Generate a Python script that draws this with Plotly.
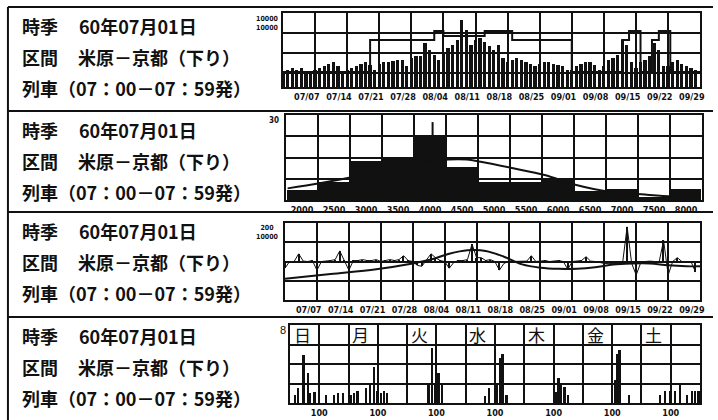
import plotly.graph_objects as go

W, H = 718, 420


def fx(x):
    return x / W


def fy(y):
    return 1 - y / H


# ---------------- data ----------------
week_labels = ["07/07", "07/14", "07/21", "07/28", "08/04", "08/11", "08/18",
               "08/25", "09/01", "09/08", "09/15", "09/22", "09/29"]

# daily passengers, 07/01 .. 09/29 (chart units)
daily_riders = [
    0.75, 0.85, 0.95, 0.85, 0.95, 0.80, 0.65,
    0.85, 0.95, 1.05, 1.15, 1.25, 1.05, 0.80,
    0.85, 0.95, 1.05, 1.15, 1.25, 1.10, 0.85,
    1.15, 1.25, 1.25, 1.30, 1.35, 1.35, 1.05,
    1.45, 1.55, 1.55, 2.20, 1.85, 1.60, 1.35,
    1.75, 1.95, 2.10, 2.35, 3.35, 2.85, 2.10,
    2.35, 2.45, 2.25, 2.05, 1.85, 2.10, 1.45,
    1.25, 1.35, 1.45, 1.35, 1.25, 1.15, 1.05,
    1.15, 1.25, 1.25, 1.15, 1.10, 1.05, 0.85,
    0.85, 1.05, 1.15, 1.25, 1.25, 1.10, 0.85,
    1.05, 1.35, 1.45, 1.60, 2.35, 2.10, 1.25,
    0.95, 1.25, 1.35, 1.55, 2.20, 1.85, 1.05,
    1.05, 1.25, 1.35, 1.15, 1.05, 0.95, 0.85,
]

# seat capacity step line (change day, level)
capacity_day = [0, 19, 33, 35, 44, 50, 63, 74, 75.5, 78, 80.5, 82, 84.5, 91]
capacity_level = [0.75, 2.35, 2.80, 2.55, 2.80, 2.35, 0.75, 2.35, 2.80,
                  0.75, 2.35, 2.80, 0.75, 0.75]

# distribution by amount
amount_labels = ["2000", "2500", "3000", "3500", "4000", "4500", "5000",
                 "5500", "6000", "6500", "7000", "7500", "8000"]
amount_counts = [3.6, 6.5, 13.8, 15.3, 22.4, 11.8, 6.5, 6.5, 7.0, 3.3, 3.8, 1.2, 3.8]
fit_x = [-0.45, 0.55, 1.55, 2.5, 3.5, 4.58, 5.15, 5.58, 6.6, 7.58, 8.57,
         9.6, 10.6, 11.57, 12.45]
fit_y = [4.1, 5.9, 8.0, 10.5, 12.8, 14.3, 14.3, 13.5, 11.2, 8.8, 5.3,
         2.9, 2.0, 1.2, 0.9]
mean_x = [4.08, 4.08]
mean_y = [22.4, 27.5]

# daily index around the base level, plus trend curve
index_base = 2.0
daily_index = [
    1.65, 2.00, 2.00, 2.40, 2.02, 2.00, 2.05,
    1.55, 2.00, 2.02, 2.05, 2.10, 2.55, 2.05,
    1.55, 2.05, 2.05, 2.10, 2.05, 2.05, 2.10,
    2.00, 2.05, 2.10, 2.05, 2.10, 2.30, 2.05,
    2.00, 1.80, 1.75, 2.05, 2.40, 2.20, 2.05,
    2.00, 1.65, 1.95, 2.05, 2.05, 2.10, 2.90,
    2.20, 2.20, 2.05, 2.10, 2.00, 1.55, 1.90,
    2.00, 2.00, 2.00, 2.00, 2.02, 2.30, 2.00,
    2.02, 2.05, 2.00, 2.02, 2.05, 2.00, 1.60,
    2.00, 2.02, 2.05, 2.25, 2.02, 2.00, 1.95,
    1.90, 1.90, 1.90, 1.90, 1.90, 3.80, 1.90,
    1.30, 1.95, 2.00, 2.02, 2.00, 1.95, 3.10,
    1.30, 2.00, 2.20, 2.00, 2.00, 2.00, 1.45,
]
trend_day = [0, 10, 20, 28, 32, 36, 40, 44, 48, 52, 56, 60, 64, 68, 72, 76, 80, 84, 88, 91]
trend_val = [1.10, 1.35, 1.60, 1.90, 2.10, 2.40, 2.58, 2.55, 2.25, 1.85, 1.68,
             1.62, 1.62, 1.70, 1.85, 1.90, 1.90, 1.80, 1.75, 1.75]

# departures by weekday / time (column position, count)
weekday_labels = ["日", "月", "火", "水", "木", "金", "土"]
slot_pos = [0.16, 0.27, 0.46, 0.61, 0.69, 0.84, 1.23, 1.51, 1.63, 1.80,
            2.08, 2.19, 2.30, 2.59, 2.72, 2.87, 2.98, 3.10, 3.21, 3.32,
            4.73, 4.85, 4.96, 5.07, 5.19,
            6.66, 6.80, 7.05, 7.16, 7.25, 7.39,
            9.08, 9.17, 9.25, 9.37, 9.48,
            11.00, 11.10, 11.17, 11.25, 11.57,
            12.64, 12.81, 12.98, 13.15, 13.32, 13.55, 13.72, 13.83, 13.94]
slot_count = [0.85, 1.5, 4.9, 3.1, 1.0, 1.1, 0.85, 0.85, 1.0, 1.0,
              0.85, 1.0, 1.2, 1.5, 1.9, 3.7, 1.2, 1.0, 1.2, 1.0,
              1.9, 5.6, 1.9, 3.1, 1.9,
              0.7, 1.5, 1.85, 4.6, 5.0, 0.8,
              1.1, 2.6, 1.85, 1.6, 0.8,
              3.0, 2.4, 5.0, 5.4, 0.8,
              0.8, 1.2, 1.2, 1.2, 1.8, 0.8, 1.2, 1.2, 1.2]
mid_label = "100"

header_date = "60年07月01日"
header_route = "米原－京都（下り）"
header_train = "列車（07：00－07：59発）"

# ---------------- figure ----------------
fig = go.Figure()
BLACK = "#111111"
days = list(range(len(daily_riders)))

# panel 1: daily riders + capacity
fig.add_trace(go.Bar(x=days, y=daily_riders,
                     marker=dict(color=BLACK, line=dict(width=0)), width=0.7,
                     xaxis="x", yaxis="y"))
fig.add_trace(go.Scatter(x=capacity_day, y=capacity_level, mode="lines",
                         line=dict(color=BLACK, width=2, shape="hv"),
                         xaxis="x", yaxis="y"))

# panel 2: histogram + fitted curve
fig.add_trace(go.Bar(x=list(range(len(amount_counts))), y=amount_counts,
                     marker=dict(color=BLACK, line=dict(width=0)), width=0.96,
                     xaxis="x2", yaxis="y2"))
fig.add_trace(go.Scatter(x=fit_x, y=fit_y, mode="lines",
                         line=dict(color=BLACK, width=2, shape="spline"),
                         xaxis="x2", yaxis="y2"))
fig.add_trace(go.Scatter(x=mean_x, y=mean_y, mode="lines",
                         line=dict(color=BLACK, width=2),
                         xaxis="x2", yaxis="y2"))

# panel 3: daily index (ticks from the base level + joining line) + trend
fig.add_trace(go.Bar(x=days, y=[v - index_base for v in daily_index], base=index_base,
                     marker=dict(color=BLACK, line=dict(width=0)), width=0.3,
                     xaxis="x3", yaxis="y3"))
fig.add_trace(go.Scatter(x=days, y=daily_index, mode="lines",
                         line=dict(color=BLACK, width=1),
                         xaxis="x3", yaxis="y3"))
fig.add_trace(go.Scatter(x=trend_day, y=trend_val, mode="lines",
                         line=dict(color=BLACK, width=2, shape="spline"),
                         xaxis="x3", yaxis="y3"))

# panel 4: weekday sticks
fig.add_trace(go.Bar(x=slot_pos, y=slot_count,
                     marker=dict(color=BLACK, line=dict(width=0)), width=0.08,
                     xaxis="x4", yaxis="y4"))

tick_font = dict(family="Liberation Sans Narrow, DejaVu Sans Condensed, Arial Narrow, sans-serif",
                 size=9, color=BLACK, weight=700)

frame = dict(showline=True, mirror=True, linecolor=BLACK, linewidth=2,
             zeroline=False, showgrid=False, ticks="", fixedrange=True)
grid = dict(showgrid=True, gridcolor=BLACK, gridwidth=2)

# panel geometry (pixels)
P1 = dict(x0=285, x1=705, y0=13, y1=87)
P2 = dict(x0=288, x1=707, y0=115, y1=200)
P3 = dict(x0=287, x1=705, y0=223, y1=300)
P4 = dict(x0=292, x1=705, y0=325, y1=403)

fig.update_layout(
    xaxis=dict(frame, domain=[fx(P1["x0"]), fx(P1["x1"])], range=[0, 91], anchor="y",
               tickvals=[7 * (i + 1) - 1.8 for i in range(13)], ticktext=week_labels,
               tickfont=tick_font,
               minor=dict(tickvals=[7 * i for i in range(1, 13)], **grid)),
    yaxis=dict(frame, domain=[fy(P1["y1"]), fy(P1["y0"])], range=[0, 3.7], anchor="x",
               showticklabels=False, minor=dict(tickvals=[0.7, 1.7, 2.7], **grid)),
    xaxis2=dict(frame, domain=[fx(P2["x0"]), fx(P2["x1"])], range=[-0.5, 12.5], anchor="y2",
                tickvals=list(range(13)), ticktext=amount_labels, tickfont=tick_font,
                minor=dict(tickvals=[i + 0.5 for i in range(12)], **grid)),
    yaxis2=dict(frame, domain=[fy(P2["y1"]), fy(P2["y0"])], range=[0, 30], anchor="x2",
                showticklabels=False, minor=dict(tickvals=[7.5, 15, 22.5], **grid)),
    xaxis3=dict(frame, domain=[fx(P3["x0"]), fx(P3["x1"])], range=[0, 91], anchor="y3",
                tickvals=[7 * (i + 1) - 1.8 for i in range(13)], ticktext=week_labels,
                tickfont=tick_font,
                minor=dict(tickvals=[7 * i for i in range(1, 13)], **grid)),
    yaxis3=dict(frame, domain=[fy(P3["y1"]), fy(P3["y0"])], range=[0, 4], anchor="x3",
                showticklabels=False, minor=dict(tickvals=[1, 2, 3], **grid)),
    xaxis4=dict(frame, domain=[fx(P4["x0"]), fx(P4["x1"])], range=[0, 14], anchor="y4",
                tickvals=[2 * i + 1 for i in range(7)], ticktext=[mid_label] * 7,
                tickfont=tick_font,
                minor=dict(tickvals=list(range(1, 14)), **grid)),
    yaxis4=dict(frame, domain=[fy(P4["y1"]), fy(P4["y0"])], range=[0, 8], anchor="x4",
                showticklabels=False, minor=dict(tickvals=[2, 4, 6], **grid)),
    width=W, height=H, margin=dict(l=0, r=0, t=0, b=0),
    paper_bgcolor="white", plot_bgcolor="white",
    showlegend=False, barmode="overlay", bargap=0,
)

# panel separators and left border
SEPS = (7, 111, 212, 317)
shapes = [dict(type="line", xref="paper", yref="paper", x0=fx(8), x1=1, y0=fy(y), y1=fy(y),
               line=dict(color=BLACK, width=2)) for y in SEPS]
shapes.append(dict(type="line", xref="paper", yref="paper", x0=fx(8), x1=fx(8),
                   y0=fy(7), y1=0, line=dict(color=BLACK, width=2)))
fig.update_layout(shapes=shapes)

cjk = dict(family="Noto Sans CJK JP, sans-serif", size=18, color=BLACK, weight=700)
ann = []
for top in SEPS:
    rows = [(20, top + 19, "時季"), (78, top + 19, header_date),
            (20, top + 50, "区間"), (77, top + 50, header_route),
            (20, top + 81, header_train)]
    for x, y, t in rows:
        ann.append(dict(x=fx(x), y=fy(y), xref="paper", yref="paper", text=t,
                        showarrow=False, xanchor="left", yanchor="middle", font=cjk))

small = dict(family="Liberation Sans Narrow, DejaVu Sans Condensed, sans-serif",
             size=7, color=BLACK, weight=700)
ann.append(dict(x=fx(283), y=fy(13), xref="paper", yref="paper", text="10000<br>10000",
                showarrow=False, xanchor="right", yanchor="top", font=small))
ann.append(dict(x=fx(283), y=fy(114), xref="paper", yref="paper", text="30",
                showarrow=False, xanchor="right", yanchor="top", font=dict(small, size=8)))
ann.append(dict(x=fx(283), y=fy(222), xref="paper", yref="paper", text="200<br>10000",
                showarrow=False, xanchor="right", yanchor="top", font=small))
ann.append(dict(x=fx(290), y=fy(322), xref="paper", yref="paper", text="8",
                showarrow=False, xanchor="right", yanchor="top",
                font=dict(family="Liberation Sans, sans-serif", size=11, color=BLACK)))
for i, d in enumerate(weekday_labels):
    ann.append(dict(x=2 * i + 0.06, y=7.0, xref="x4", yref="y4", text=d, showarrow=False,
                    xanchor="left", yanchor="middle",
                    font=dict(family="Noto Sans CJK JP, sans-serif", size=17, color=BLACK)))
fig.update_layout(annotations=ann)

fig.write_html("out.html")
